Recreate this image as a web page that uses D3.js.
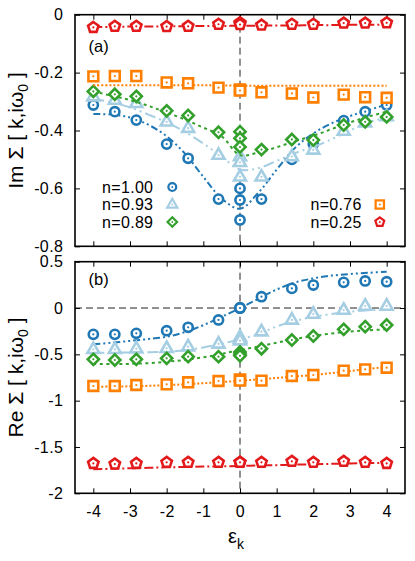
<!DOCTYPE html>
<html>
<head>
<meta charset="utf-8">
<script src="https://cdn.jsdelivr.net/npm/d3@7"></script>
<style>
  body { margin: 0; background: #fff; }
  text { font-family: "Liberation Sans", Arial, sans-serif; fill: #000; }
</style>
</head>
<body>
<script>
// k-points of the lattice (three momenta share eps = 0)
var epsK = [-4, -3.414, -2.828, -2, -1.414, -0.586, 0, 0, 0, 0.586, 1.414, 2, 2.828, 3.414, 4];

// Im Sigma(k, i w0)
var imN100 = [-0.312, -0.335, -0.364, -0.447, -0.496, -0.637, -0.600, -0.640, -0.709, -0.637, -0.500, -0.447, -0.366, -0.335, -0.312];
var imN093 = [-0.283, -0.295, -0.306, -0.370, -0.392, -0.485, -0.490, -0.510, -0.560, -0.560, -0.490, -0.467, -0.402, -0.373, -0.352];
var imN089 = [-0.265, -0.275, -0.282, -0.332, -0.348, -0.406, -0.404, -0.427, -0.457, -0.466, -0.431, -0.433, -0.381, -0.370, -0.353];
var imN076 = [-0.213, -0.212, -0.212, -0.234, -0.237, -0.252, -0.258, -0.260, -0.262, -0.268, -0.272, -0.286, -0.276, -0.285, -0.287];
var imN025 = [-0.044, -0.040, -0.040, -0.041, -0.040, -0.033, -0.028, -0.030, -0.034, -0.036, -0.033, -0.033, -0.029, -0.029, -0.028];

// Re Sigma(k, i w0)
var reN100 = [-0.284, -0.284, -0.273, -0.245, -0.208, -0.129, 0.000, 0.000, 0.000, 0.122, 0.212, 0.248, 0.277, 0.292, 0.284];
var reN093 = [-0.446, -0.446, -0.439, -0.435, -0.417, -0.388, -0.316, -0.335, -0.353, -0.255, -0.129, -0.065, -0.022, 0.022, 0.022];
var reN089 = [-0.554, -0.561, -0.554, -0.543, -0.525, -0.525, -0.475, -0.495, -0.515, -0.439, -0.345, -0.302, -0.230, -0.201, -0.183];
var reN076 = [-0.842, -0.842, -0.831, -0.824, -0.802, -0.788, -0.770, -0.777, -0.784, -0.784, -0.734, -0.723, -0.676, -0.662, -0.644];
var reN025 = [-1.677, -1.684, -1.677, -1.666, -1.666, -1.666, -1.666, -1.666, -1.666, -1.666, -1.655, -1.666, -1.655, -1.666, -1.677];

// fit curves, read at these eps values
var fitEps = [-4, -3.5, -3, -2.5, -2, -1.5, -1, -0.5, 0, 0.5, 1, 1.5, 2, 2.5, 3, 3.5, 4];
var imFit100 = [-0.343, -0.345, -0.355, -0.380, -0.420, -0.480, -0.560, -0.635, -0.670, -0.615, -0.535, -0.460, -0.410, -0.375, -0.350, -0.330, -0.310];
var imFit093 = [-0.290, -0.303, -0.320, -0.345, -0.372, -0.405, -0.445, -0.490, -0.535, -0.530, -0.505, -0.478, -0.457, -0.430, -0.400, -0.372, -0.355];
var imFit089 = [-0.265, -0.280, -0.295, -0.315, -0.338, -0.362, -0.390, -0.420, -0.485, -0.476, -0.458, -0.437, -0.418, -0.395, -0.372, -0.352, -0.335];
var imFit076 = [-0.244, -0.244, -0.244, -0.244, -0.244, -0.244, -0.244, -0.244, -0.245, -0.245, -0.245, -0.245, -0.245, -0.245, -0.245, -0.245, -0.245];
var imFit025 = [-0.042, -0.042, -0.041, -0.041, -0.040, -0.040, -0.039, -0.039, -0.038, -0.038, -0.037, -0.037, -0.036, -0.036, -0.035, -0.035, -0.034];

var reFit100 = [-0.392, -0.375, -0.355, -0.335, -0.310, -0.260, -0.185, -0.095, 0.000, 0.100, 0.200, 0.275, 0.320, 0.350, 0.367, 0.380, 0.392];
var reFit093 = [-0.482, -0.482, -0.480, -0.477, -0.471, -0.455, -0.425, -0.385, -0.338, -0.280, -0.200, -0.140, -0.095, -0.065, -0.040, -0.025, -0.014];
var reFit089 = [-0.604, -0.604, -0.603, -0.595, -0.580, -0.560, -0.532, -0.495, -0.453, -0.415, -0.375, -0.335, -0.302, -0.275, -0.255, -0.240, -0.230];
var reFit076 = [-0.849, -0.848, -0.845, -0.840, -0.832, -0.823, -0.812, -0.799, -0.785, -0.770, -0.755, -0.739, -0.722, -0.702, -0.680, -0.658, -0.635];
var reFit025 = [-1.741, -1.735, -1.730, -1.725, -1.720, -1.716, -1.712, -1.708, -1.705, -1.700, -1.696, -1.691, -1.687, -1.682, -1.678, -1.674, -1.670];

var xTicks = [-4, -3, -2, -1, 0, 1, 2, 3, 4];
var imTicks = [0, -0.2, -0.4, -0.6, -0.8];
var reTicks = [0.5, 0, -0.5, -1, -1.5, -2];
var labels = ["n=1.00", "n=0.93", "n=0.89", "n=0.76", "n=0.25"];

// styles per series
var colors = ["#1f78b4", "#a6cee3", "#33a02c", "#ff7f00", "#e31a1c"];
var markers = ["circle", "triangle", "diamond", "square", "pentagon"];
var dashes = ["7,3,2,3,2,3", "11,4,2,4,2,4", "3,3.5", "2,2", "9,3,2,3"];

var W = 415, H = 561;
var left = 75, right = 405;

var svg = d3.select('body').append('svg')
  .attr('width', W)
  .attr('height', H);

var x = d3.scaleLinear().domain([-4.5, 4.5]).range([left, right]);

function markerPath(type) {
  var p = d3.path();
  var i, a, r;
  if (type == "circle") {
    p.arc(0, 0, 4.6, 0, 2 * Math.PI);
  } else if (type == "triangle") {
    p.moveTo(0, -6.8); p.lineTo(6.0, 3.7); p.lineTo(-6.0, 3.7); p.closePath();
  } else if (type == "diamond") {
    p.moveTo(0, -5.6); p.lineTo(5.6, 0); p.lineTo(0, 5.6); p.lineTo(-5.6, 0); p.closePath();
  } else if (type == "square") {
    p.rect(-4.9, -4.9, 9.8, 9.8);
  } else {
    r = 5.5;
    for (i = 0; i < 5; i++) {
      a = -Math.PI / 2 + i * 2 * Math.PI / 5;
      if (i == 0) p.moveTo(r * Math.cos(a), r * Math.sin(a));
      else p.lineTo(r * Math.cos(a), r * Math.sin(a));
    }
    p.closePath();
  }
  return p.toString();
}

function drawMarker(g, type, cx, cy, color, k) {
  k = k || 1;
  var m = g.append('g').attr('transform', 'translate(' + cx + ',' + cy + ') scale(' + k + ')');
  m.append('path')
    .attr('d', markerPath(type))
    .attr('fill', '#fff')
    .attr('stroke', color)
    .attr('stroke-width', 2.6)
    .attr('stroke-linejoin', 'miter');
  m.append('circle').attr('r', 1.1).attr('fill', color);
}

function drawPanel(y0, y1, domain, yTicks, series, fits, tag, tagY, title, showX) {
  var y = d3.scaleLinear().domain(domain).range([y1, y0]);
  var g = svg.append('g');

  // zero lines
  g.append('line')
    .attr('x1', x(0)).attr('x2', x(0)).attr('y1', y0).attr('y2', y1)
    .attr('stroke', '#222').attr('stroke-width', 1).attr('stroke-dasharray', '7,4');
  if (domain[1] > 0) {
    g.append('line')
      .attr('x1', left).attr('x2', right).attr('y1', y(0)).attr('y2', y(0))
      .attr('stroke', '#222').attr('stroke-width', 1).attr('stroke-dasharray', '7,4');
  }

  // ticks on all four sides, pointing in
  var fmt = function (d) { return String(d); };
  var axB = g.append('g').attr('transform', 'translate(0,' + y1 + ')')
    .call(d3.axisBottom(x).tickValues(xTicks).tickSize(-5).tickPadding(12.5).tickFormat(showX ? fmt : ''));
  var axT = g.append('g').attr('transform', 'translate(0,' + y0 + ')')
    .call(d3.axisTop(x).tickValues(xTicks).tickSize(-5).tickFormat(''));
  var axL = g.append('g').attr('transform', 'translate(' + left + ',0)')
    .call(d3.axisLeft(y).tickValues(yTicks).tickSize(-5).tickPadding(11.7).tickFormat(fmt));
  var axR = g.append('g').attr('transform', 'translate(' + right + ',0)')
    .call(d3.axisRight(y).tickValues(yTicks).tickSize(-5).tickFormat(''));
  [axB, axT, axL, axR].forEach(function (a) {
    a.select('.domain').remove();
    a.selectAll('.tick line').attr('stroke', '#000').attr('stroke-width', 1);
    a.selectAll('.tick text').attr('font-size', 16).attr('letter-spacing', 0.4)
      .attr('font-family', '"Liberation Sans", Arial, sans-serif').attr('fill', '#000');
  });

  // fit curves and data
  var line = d3.line()
    .x(function (d) { return x(d[0]); })
    .y(function (d) { return y(d[1]); })
    .curve(d3.curveCatmullRom);

  series.forEach(function (vals, i) {
    g.append('path')
      .attr('d', line(fitEps.map(function (e, j) { return [e, fits[i][j]]; })))
      .attr('fill', 'none')
      .attr('stroke', colors[i])
      .attr('stroke-width', 2)
      .attr('stroke-dasharray', dashes[i]);
    vals.forEach(function (v, j) {
      drawMarker(g, markers[i], x(epsK[j]), y(v), colors[i]);
    });
  });

  // frame
  g.append('rect')
    .attr('x', left).attr('y', y0)
    .attr('width', right - left).attr('height', y1 - y0)
    .attr('fill', 'none').attr('stroke', '#000').attr('stroke-width', 1.6);

  g.append('text')
    .attr('x', 88.5).attr('y', tagY)
    .attr('font-size', 16.5)
    .text(tag);

  var t = g.append('text')
    .attr('transform', 'translate(23,' + ((y0 + y1) / 2) + ') rotate(-90)')
    .attr('text-anchor', 'middle')
    .attr('font-size', 21);
  t.append('tspan').text(title + ' Σ [ k,iω');
  t.append('tspan').attr('font-size', 14).attr('dy', 5).text('0');
  t.append('tspan').attr('dy', -5).text(' ]');
}

drawPanel(14.7, 246.3, [-0.8, 0], imTicks,
  [imN100, imN093, imN089, imN076, imN025],
  [imFit100, imFit093, imFit089, imFit076, imFit025], '(a)', 51.6, 'Im', false);

drawPanel(261.7, 493.3, [-2, 0.5], reTicks,
  [reN100, reN093, reN089, reN076, reN025],
  [reFit100, reFit093, reFit089, reFit076, reFit025], '(b)', 284.6, 'Re', true);

// legend in panel (a)
var legRows = [187, 204.5, 222, 204.5, 222];
var legText = [153.3, 153.3, 153.3, 361.7, 361.7];
var legMark = [172.3, 172.3, 172.3, 379.8, 379.8];
labels.forEach(function (lab, i) {
  svg.append('text')
    .attr('x', legText[i]).attr('y', legRows[i] + 5.5)
    .attr('text-anchor', 'end')
    .attr('font-size', 16)
    .attr('letter-spacing', 0.3)
    .text(lab);
  drawMarker(svg, markers[i], legMark[i], legRows[i], colors[i], 0.85);
});

// x axis title
var xt = svg.append('text')
  .attr('x', 236).attr('y', 542.5)
  .attr('text-anchor', 'middle')
  .attr('font-size', 20);
xt.append('tspan').text('ε');
xt.append('tspan').attr('font-size', 14).attr('dy', 6).text('k');
</script>
</body>
</html>
